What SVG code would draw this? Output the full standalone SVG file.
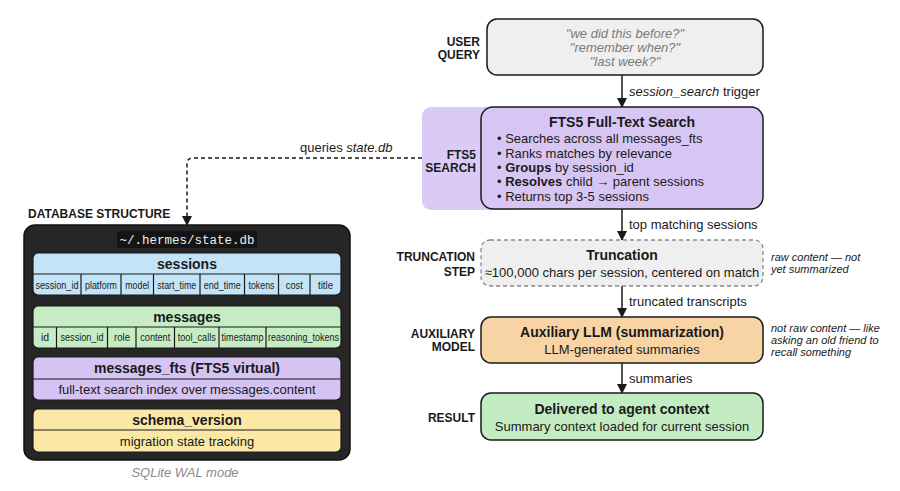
<svg xmlns="http://www.w3.org/2000/svg" width="900" height="491" viewBox="0 0 900 491">
  <defs>
    <marker id="arr" markerWidth="10" markerHeight="10" refX="9" refY="5" orient="auto" markerUnits="userSpaceOnUse">
      <path d="M0,0 L10,5 L0,10 Z" fill="#1a1a1a"/>
    </marker>
    <style>
      text { font-family: "Liberation Sans", Arial, sans-serif; fill: #1a1a1a; }
      .lbl { font-size: 12px; font-weight: bold; text-anchor: end; }
      .ttl { font-size: 14px; font-weight: bold; text-anchor: middle; }
      .sub { font-size: 13px; text-anchor: middle; }
      .bul { font-size: 13px; }
      .edge { font-size: 13px; }
      .note { font-size: 11px; font-style: italic; }
      .q { font-size: 13px; font-style: italic; fill: #7a7a7a; text-anchor: middle; }
      .box { stroke: #1a1a1a; stroke-width: 1.5; }
      .tbl { stroke: #1a1a1a; stroke-width: 1.2; }
      .col { font-size: 10.5px; text-anchor: middle; }
      .th { font-size: 14px; font-weight: bold; text-anchor: middle; }
      .td { font-size: 13px; text-anchor: middle; }
      .conn { stroke: #1a1a1a; stroke-width: 1.5; fill: none; }
      .mono { font-family: "Liberation Mono", "DejaVu Sans Mono", monospace; font-size: 12.5px; fill: #eeeeee; text-anchor: middle; }
      .cap { font-size: 13px; font-style: italic; fill: #8a8a8a; text-anchor: middle; }
    </style>
  </defs>

  <rect width="900" height="491" fill="#ffffff"/>

  <!-- Connectors -->
  <g id="connectors">
    <line class="conn" x1="622" y1="75" x2="622" y2="107" marker-end="url(#arr)"/>
    <line class="conn" x1="622" y1="209" x2="622" y2="240" marker-end="url(#arr)"/>
    <line class="conn" x1="622" y1="286" x2="622" y2="317" marker-end="url(#arr)"/>
    <line class="conn" x1="622" y1="363" x2="622" y2="393" marker-end="url(#arr)"/>
    <path class="conn" d="M422,158 H193 Q187,158 187,164 V225" stroke-dasharray="4 3" marker-end="url(#arr)"/>
    <text class="edge" x="629" y="96"><tspan font-style="italic">session_search</tspan> trigger</text>
    <text class="edge" x="629" y="229">top matching sessions</text>
    <text class="edge" x="629" y="306">truncated transcripts</text>
    <text class="edge" x="629" y="383">summaries</text>
    <text class="edge" x="300" y="152">queries <tspan font-style="italic">state.db</tspan></text>
  </g>

  <!-- User query -->
  <g id="user-query">
    <text class="lbl" x="480" y="46">USER</text>
    <text class="lbl" x="480" y="58.5">QUERY</text>
    <rect class="box" x="487" y="19" width="276" height="56" rx="10" fill="#efefef"/>
    <text class="q" x="625" y="37.5">"we did this before?"</text>
    <text class="q" x="625" y="51.5">"remember when?"</text>
    <text class="q" x="625" y="66">"last week?"</text>
  </g>

  <!-- FTS5 search -->
  <g id="fts5-search">
    <rect x="422" y="107" width="100" height="103" rx="9" fill="#d9cbf5"/>
    <text class="lbl" x="476" y="158.5">FTS5</text>
    <text class="lbl" x="476" y="171.5">SEARCH</text>
    <rect class="box" x="481" y="107" width="282" height="102" rx="12" fill="#d7c6f4"/>
    <text class="ttl" x="622" y="127">FTS5 Full-Text Search</text>
    <text class="bul" x="497" y="143">• Searches across all messages_fts</text>
    <text class="bul" x="497" y="157.5">• Ranks matches by relevance</text>
    <text class="bul" x="497" y="172">• <tspan font-weight="bold">Groups</tspan> by session_id</text>
    <text class="bul" x="497" y="186">• <tspan font-weight="bold">Resolves</tspan> child → parent sessions</text>
    <text class="bul" x="497" y="200.5">• Returns top 3-5 sessions</text>
  </g>

  <!-- Truncation -->
  <g id="truncation">
    <text class="lbl" x="475" y="260.5">TRUNCATION</text>
    <text class="lbl" x="475" y="276">STEP</text>
    <rect x="481" y="240" width="282" height="46" rx="9" fill="#efefef" stroke="#8a8a8a" stroke-width="1.3" stroke-dasharray="4 3"/>
    <text class="ttl" x="622" y="260">Truncation</text>
    <text class="sub" x="622" y="277">≈100,000 chars per session, centered on match</text>
    <text class="note" x="771" y="261">raw content — not</text>
    <text class="note" x="771" y="273">yet summarized</text>
  </g>

  <!-- Auxiliary model -->
  <g id="auxiliary-model">
    <text class="lbl" x="475" y="337.5">AUXILIARY</text>
    <text class="lbl" x="475" y="351">MODEL</text>
    <rect class="box" x="481" y="317" width="282" height="46" rx="10" fill="#f8d4a5"/>
    <text class="ttl" x="622" y="336.5">Auxiliary LLM (summarization)</text>
    <text class="sub" x="622" y="353.5">LLM-generated summaries</text>
    <text class="note" x="771" y="332">not raw content — like</text>
    <text class="note" x="771" y="344">asking an old friend to</text>
    <text class="note" x="771" y="356">recall something</text>
  </g>

  <!-- Result -->
  <g id="result">
    <text class="lbl" x="475" y="421.5">RESULT</text>
    <rect class="box" x="481" y="393" width="282" height="47" rx="10" fill="#c3ecc3"/>
    <text class="ttl" x="622" y="414">Delivered to agent context</text>
    <text class="sub" x="622" y="430.5">Summary context loaded for current session</text>
  </g>

  <!-- Database structure -->
  <g id="database">
    <text x="28" y="217.5" font-size="12" font-weight="bold">DATABASE STRUCTURE</text>
    <rect x="24" y="225" width="326" height="235" rx="11" fill="#262626" stroke="#111" stroke-width="1.5"/>
    <rect x="117" y="231" width="140" height="17" rx="3" fill="#141414"/>
    <text class="mono" x="187" y="243.5">~/.hermes/state.db</text>
  </g>

  <g id="table-sessions">
    <rect class="tbl" x="33" y="253" width="308" height="42" rx="5" fill="#c3e4f6"/>
    <line class="tbl" x1="33" y1="274" x2="341" y2="274"/>
    <line class="tbl" x1="81" y1="274" x2="81" y2="295"/>
    <line class="tbl" x1="121" y1="274" x2="121" y2="295"/>
    <line class="tbl" x1="153.5" y1="274" x2="153.5" y2="295"/>
    <line class="tbl" x1="200" y1="274" x2="200" y2="295"/>
    <line class="tbl" x1="244.5" y1="274" x2="244.5" y2="295"/>
    <line class="tbl" x1="278.5" y1="274" x2="278.5" y2="295"/>
    <line class="tbl" x1="310" y1="274" x2="310" y2="295"/>
    <text class="th" x="187" y="268.5">sessions</text>
    <text class="col" x="57" y="288.5" textLength="43" lengthAdjust="spacingAndGlyphs">session_id</text>
    <text class="col" x="101" y="288.5" textLength="32" lengthAdjust="spacingAndGlyphs">platform</text>
    <text class="col" x="137.25" y="288.5" textLength="24" lengthAdjust="spacingAndGlyphs">model</text>
    <text class="col" x="176.75" y="288.5" textLength="39" lengthAdjust="spacingAndGlyphs">start_time</text>
    <text class="col" x="222.25" y="288.5" textLength="37" lengthAdjust="spacingAndGlyphs">end_time</text>
    <text class="col" x="261.5" y="288.5" textLength="26" lengthAdjust="spacingAndGlyphs">tokens</text>
    <text class="col" x="294.25" y="288.5" textLength="17" lengthAdjust="spacingAndGlyphs">cost</text>
    <text class="col" x="325.5" y="288.5" textLength="15" lengthAdjust="spacingAndGlyphs">title</text>
  </g>

  <g id="table-messages">
    <rect class="tbl" x="33" y="306" width="308" height="42" rx="5" fill="#c5ecc2"/>
    <line class="tbl" x1="33" y1="327" x2="341" y2="327"/>
    <line class="tbl" x1="56.5" y1="327" x2="56.5" y2="348"/>
    <line class="tbl" x1="107.5" y1="327" x2="107.5" y2="348"/>
    <line class="tbl" x1="136" y1="327" x2="136" y2="348"/>
    <line class="tbl" x1="174.5" y1="327" x2="174.5" y2="348"/>
    <line class="tbl" x1="219" y1="327" x2="219" y2="348"/>
    <line class="tbl" x1="266" y1="327" x2="266" y2="348"/>
    <text class="th" x="187" y="321.5">messages</text>
    <text class="col" x="45" y="341">id</text>
    <text class="col" x="82" y="341" textLength="43" lengthAdjust="spacingAndGlyphs">session_id</text>
    <text class="col" x="122" y="341" textLength="16" lengthAdjust="spacingAndGlyphs">role</text>
    <text class="col" x="155.25" y="341" textLength="30" lengthAdjust="spacingAndGlyphs">content</text>
    <text class="col" x="196.75" y="341" textLength="38" lengthAdjust="spacingAndGlyphs">tool_calls</text>
    <text class="col" x="242.5" y="341" textLength="42" lengthAdjust="spacingAndGlyphs">timestamp</text>
    <text class="col" x="303.5" y="341" textLength="71" lengthAdjust="spacingAndGlyphs">reasoning_tokens</text>
  </g>

  <g id="table-messages-fts">
    <rect class="tbl" x="33" y="357" width="308" height="43" rx="5" fill="#d5c4f3"/>
    <line class="tbl" x1="33" y1="379" x2="341" y2="379"/>
    <text class="th" x="187" y="373">messages_fts (FTS5 virtual)</text>
    <text class="td" x="187" y="394">full-text search index over messages.content</text>
  </g>

  <g id="table-schema-version">
    <rect class="tbl" x="33" y="409" width="308" height="43" rx="5" fill="#fbe8a7"/>
    <line class="tbl" x1="33" y1="430" x2="341" y2="430"/>
    <text class="th" x="187" y="424.5">schema_version</text>
    <text class="td" x="187" y="445.5">migration state tracking</text>
  </g>

  <g id="db-caption">
    <text class="cap" x="185" y="476.5">SQLite WAL mode</text>
  </g>
</svg>
